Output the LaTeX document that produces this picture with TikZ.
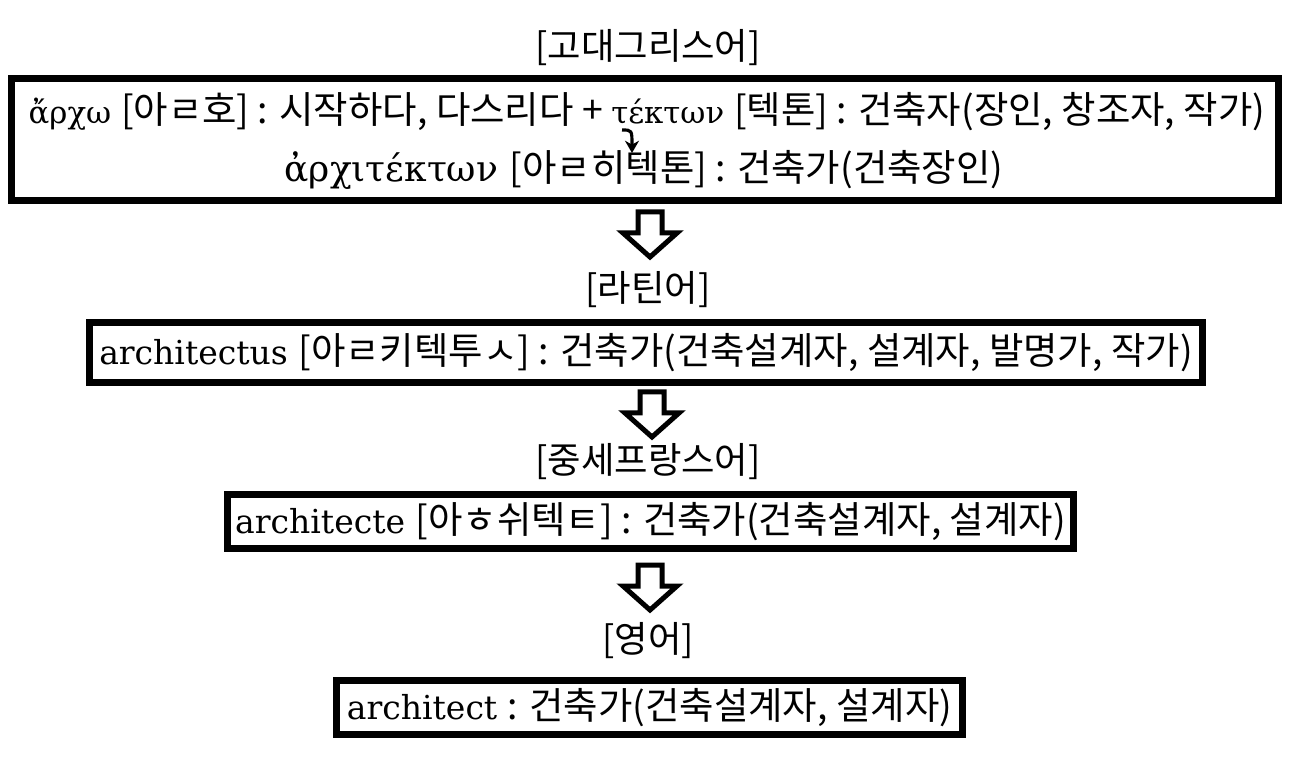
\documentclass[tikz,border=0pt]{standalone}
\usepackage{fontspec}
\setmainfont{DejaVu Serif}
\newfontfamily\kr{Noto Sans CJK KR}
\newcommand\ko[1]{{\kr\fontsize{21.3}{26}\selectfont #1}}
\usetikzlibrary{arrows.meta}
% 속이 빈 아래 화살표
\newcommand\hollowdown[1]{%
  \draw[bigarrow, shift={(#1)}] (-12,0) -- (-12,21) -- (-27,21) -- (0,45) -- (27,21) -- (12,21) -- (12,0) -- cycle;}

\begin{document}
\begin{tikzpicture}[x=0.02cm, y=-0.02cm,
    wordbox/.style={draw, line width=0.14cm, inner sep=0pt, font=\fontsize{18.8}{24}\selectfont},
    word/.style={inner sep=0pt, font=\fontsize{17.5}{24}\selectfont},
    lang/.style={inner sep=0pt, font=\kr\fontsize{20.7}{25}\selectfont},
    bigarrow/.style={draw, line width=0.1cm, line join=miter, fill=white}]
    \useasboundingbox[fill=white] (0,0) rectangle (1296,760);

    % 고대 그리스어
    \node[lang] (t1) at (648, 48) {[고대그리스어]};
    \node[wordbox, minimum width=25.34cm, minimum height=2.44cm] (greek) at (645, 139.5) {};
    \node[word] (l1) at (647, 112) {ἄρχω \ko{[아ㄹ호] : 시작하다, 다스리다 + }τέκτων \ko{[텍톤] : 건축자(장인, 창조자, 작가)}};
    \node[word, font=\fontsize{20.5}{24}\selectfont] (l2) at (644, 170) {ἀρχιτέκτων \ko{[아ㄹ히텍톤] : 건축가(건축장인)}};
    \coordinate (hookA) at (622, 130);
    \coordinate (hookB) at (632, 153);
    \draw[-{Stealth[length=7pt, width=8pt]}, line width=1.8pt] (hookA) .. controls (632, 130) .. (hookB);

    % 라틴어
    \coordinate (a1) at (650, 212);
    \hollowdown{a1}
    \node[lang] (t2) at (648, 290) {[라틴어]};
    \node[wordbox, minimum width=22.26cm, minimum height=1.2cm] (latin) at (646, 352.5)
        {architectus \ko{[아ㄹ키텍투ㅅ] : 건축가(건축설계자, 설계자, 발명가, 작가)}};

    % 중세 프랑스어
    \coordinate (a2) at (652, 392);
    \hollowdown{a2}
    \node[lang] (t3) at (648, 462) {[중세프랑스어]};
    \node[wordbox, minimum width=16.92cm, minimum height=1.08cm] (french) at (650.5, 521.5)
        {architecte \ko{[아ㅎ쉬텍ㅌ] : 건축가(건축설계자, 설계자)}};

    % 영어
    \coordinate (a3) at (650, 565);
    \hollowdown{a3}
    \node[lang] (t4) at (648, 641) {[영어]};
    \node[wordbox, minimum width=12.52cm, minimum height=1.08cm] (english) at (649.5, 707.5)
        {architect \ko{: 건축가(건축설계자, 설계자)}};
\end{tikzpicture}
\end{document}
